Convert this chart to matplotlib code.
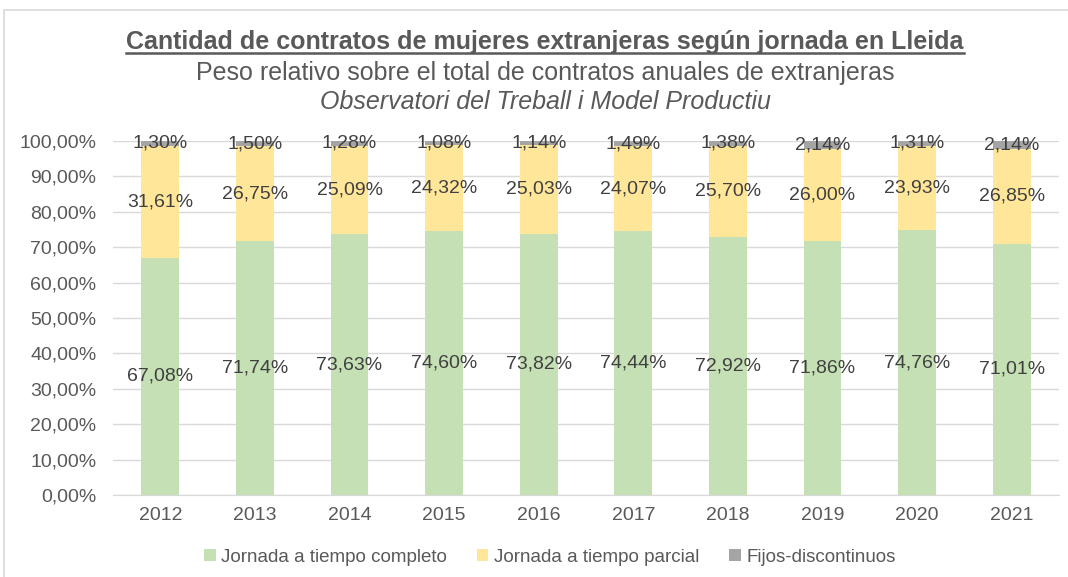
import matplotlib
matplotlib.use("Agg")
import matplotlib.pyplot as plt
from matplotlib.patches import Rectangle
from matplotlib.lines import Line2D
import numpy as np

plt.rcParams['font.family'] = ['Liberation Sans', 'DejaVu Sans']

years = ['2012', '2013', '2014', '2015', '2016', '2017', '2018', '2019', '2020', '2021']
completo = [67.08, 71.74, 73.63, 74.60, 73.82, 74.44, 72.92, 71.86, 74.76, 71.01]
parcial = [31.61, 26.75, 25.09, 24.32, 25.03, 24.07, 25.70, 26.00, 23.93, 26.85]
fijos = [1.30, 1.50, 1.28, 1.08, 1.14, 1.49, 1.38, 2.14, 1.31, 2.14]
series_names = ['Jornada a tiempo completo', 'Jornada a tiempo parcial', 'Fijos-discontinuos']
colors = ['#C5E0B4', '#FFE699', '#A5A5A5']

W, H = 1068, 577
fig = plt.figure(figsize=(W / 100, H / 100), dpi=100)
ax = fig.add_axes([113 / W, 1 - 495 / H, (1059 - 113) / W, (495 - 141) / H])

x = np.arange(len(years))
bw = 0.4
bottom = np.zeros(len(years))
for vals, c, name in zip([completo, parcial, fijos], colors, series_names):
    v = np.array(vals)
    ax.bar(x, v, bw, bottom=bottom, color=c, label=name, zorder=2)
    for xi, b, vi in zip(x, bottom, v):
        ax.text(xi, b + vi / 2, f"{vi:.2f}%".replace('.', ','), ha='center', va='center',
                fontsize=14, color='#404040', zorder=3)
    bottom = bottom + v

ax.set_xlim(-0.5, len(years) - 0.5)
ax.set_ylim(0, 100)
ax.set_yticks(np.arange(0, 101, 10))
ax.set_yticklabels([f"{t:.2f}%".replace('.', ',') for t in np.arange(0, 101, 10)])
ax.set_xticks(x)
ax.set_xticklabels(years)
ax.tick_params(axis='both', length=0, labelsize=14, colors='#595959')
ax.tick_params(axis='x', pad=9)
ax.tick_params(axis='y', pad=12)
ax.grid(axis='y', color='#D9D9D9', linewidth=1, zorder=0)
for s in ['top', 'right', 'left']:
    ax.spines[s].set_visible(False)
ax.spines['bottom'].set_color('#D9D9D9')
ax.spines['bottom'].set_zorder(1)

# chart border
fig.patches.append(Rectangle((4 / W, -0.1), 1.2, 1 - 10 / H + 0.1, transform=fig.transFigure,
                             fill=False, edgecolor='#D9D9D9', linewidth=1.2))

t = fig.text(545 / W, 1 - 42 / H, 'Cantidad de contratos de mujeres extranjeras según jornada en Lleida',
             ha='center', va='center', fontsize=18, fontweight='bold', color='#595959')
fig.text(545 / W, 1 - 73 / H, 'Peso relativo sobre el total de contratos anuales de extranjeras',
         ha='center', va='center', fontsize=18, color='#595959')
fig.text(545 / W, 1 - 102 / H, 'Observatori del Treball i Model Productiu',
         ha='center', va='center', fontsize=18, style='italic', color='#595959')

fig.canvas.draw()
bb = t.get_window_extent(fig.canvas.get_renderer())
uy = (bb.y0 + 1) / H
fig.add_artist(Line2D([bb.x0 / W, bb.x1 / W], [uy, uy], transform=fig.transFigure,
                      color='#595959', linewidth=1.8))

handles, labels = ax.get_legend_handles_labels()
fig.legend(handles, labels, loc='center', bbox_to_anchor=(550 / W, 1 - 557 / H), ncol=3,
           frameon=False, fontsize=13.5, labelcolor='#595959', handlelength=0.6, handleheight=0.6,
           handletextpad=0.3, columnspacing=1.6)

fig.savefig('out.png', dpi=100)
